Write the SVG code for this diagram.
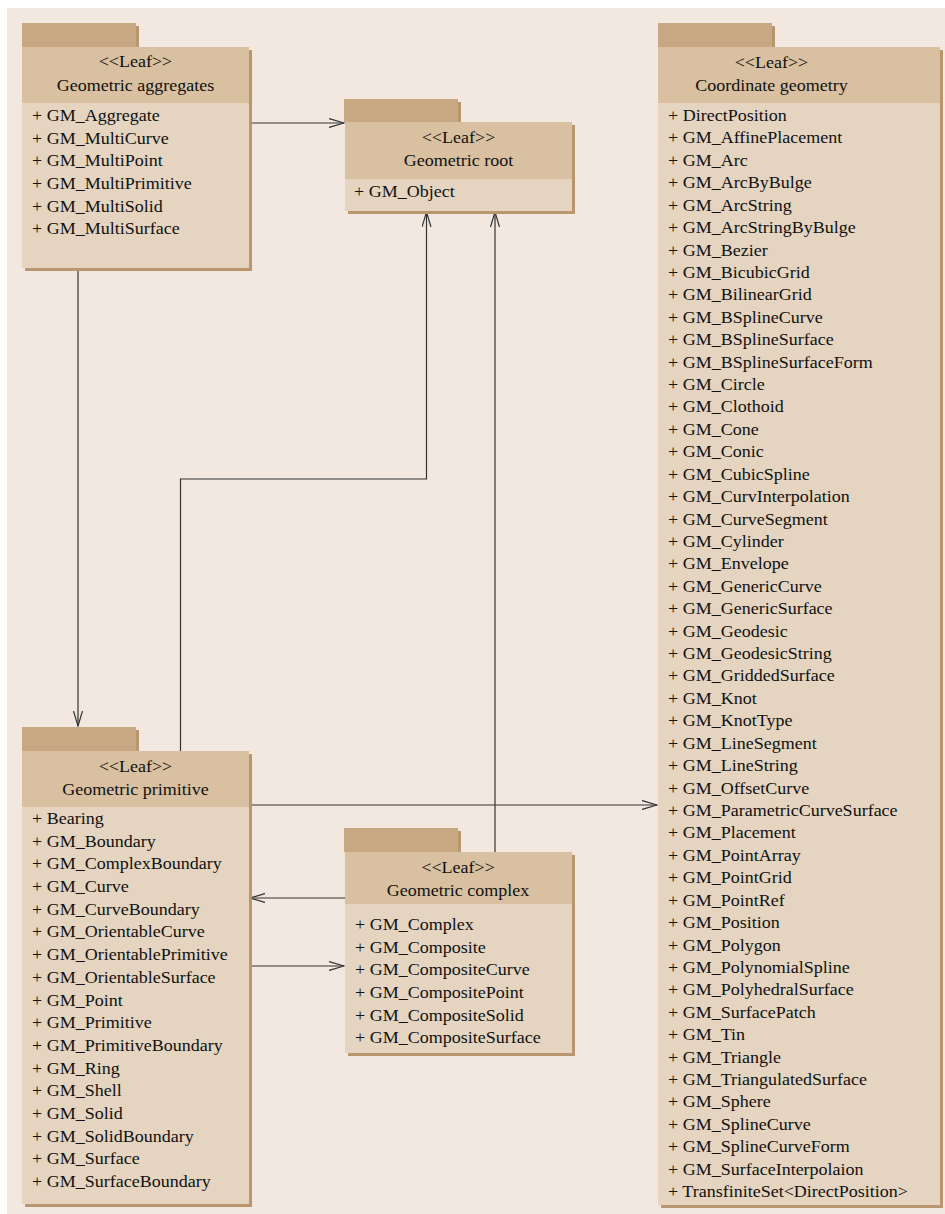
<svg xmlns="http://www.w3.org/2000/svg" width="945" height="1214" viewBox="0 0 945 1214">
<style>
.shadow{fill:#b8966e}
.tab{fill:#c8a882}
.head{fill:#d8c0a0}
.body{fill:#e4d4c0}
text{font-family:"Liberation Serif","Times New Roman",serif;font-size:17px;fill:#111}
.c{text-anchor:middle}
.conn{fill:none;stroke:#333;stroke-width:1.2}
</style>
<defs>
<marker id="arr" viewBox="0 0 16 10" refX="15" refY="5" markerWidth="16" markerHeight="10" markerUnits="userSpaceOnUse" orient="auto">
<path d="M0,0.5 L15,5 L0,9.5" fill="none" stroke="#333" stroke-width="1.2"/>
</marker>
</defs>
<rect x="7" y="8" width="938" height="1206" fill="#f2e8df"/>

<g id="connectors">
<path class="conn" d="M249,123 H344" marker-end="url(#arr)"/>
<path class="conn" d="M78,268 V726" marker-end="url(#arr)"/>
<path class="conn" d="M180.5,751 V479 H426.5 V212" marker-end="url(#arr)"/>
<path class="conn" d="M495,852 V212" marker-end="url(#arr)"/>
<path class="conn" d="M249,805 H657" marker-end="url(#arr)"/>
<path class="conn" d="M345,898 H250" marker-end="url(#arr)"/>
<path class="conn" d="M249,966 H344" marker-end="url(#arr)"/>
</g>

<g id="geometric-aggregates">
<rect class="shadow" x="25" y="26" width="114" height="24"/>
<rect class="shadow" x="25" y="50" width="227" height="221"/>
<rect class="tab" x="22" y="23" width="114" height="24"/>
<rect class="head" x="22" y="47" width="227" height="56"/>
<rect class="body" x="22" y="103" width="227" height="165"/>
<g transform="translate(32,0) scale(1.06,1)">
<text class="c" x="97.6" y="67">&lt;&lt;Leaf&gt;&gt;</text>
<text class="c" x="97.6" y="91">Geometric aggregates</text>
<text x="0" y="121">+ GM_Aggregate</text>
<text x="0" y="143.7">+ GM_MultiCurve</text>
<text x="0" y="166.4">+ GM_MultiPoint</text>
<text x="0" y="189.1">+ GM_MultiPrimitive</text>
<text x="0" y="211.8">+ GM_MultiSolid</text>
<text x="0" y="234.5">+ GM_MultiSurface</text>
</g>
</g>

<g id="geometric-root">
<rect class="shadow" x="347" y="102" width="114" height="23"/>
<rect class="shadow" x="348" y="125" width="227" height="89"/>
<rect class="tab" x="344" y="99" width="114" height="23"/>
<rect class="head" x="345" y="122" width="227" height="57"/>
<rect class="body" x="345" y="179" width="227" height="32"/>
<g transform="translate(354,0) scale(1.06,1)">
<text class="c" x="98.6" y="143">&lt;&lt;Leaf&gt;&gt;</text>
<text class="c" x="98.6" y="166">Geometric root</text>
<text x="0" y="197">+ GM_Object</text>
</g>
</g>

<g id="geometric-complex">
<rect class="shadow" x="347" y="831" width="114" height="24"/>
<rect class="shadow" x="348" y="855" width="227" height="201"/>
<rect class="tab" x="344" y="828" width="114" height="24"/>
<rect class="head" x="345" y="852" width="227" height="52"/>
<rect class="body" x="345" y="904" width="227" height="149"/>
<g transform="translate(355,0) scale(1.06,1)">
<text class="c" x="97.2" y="873">&lt;&lt;Leaf&gt;&gt;</text>
<text class="c" x="97.2" y="896">Geometric complex</text>
<text x="0" y="930">+ GM_Complex</text>
<text x="0" y="952.7">+ GM_Composite</text>
<text x="0" y="975.4">+ GM_CompositeCurve</text>
<text x="0" y="998.1">+ GM_CompositePoint</text>
<text x="0" y="1020.8">+ GM_CompositeSolid</text>
<text x="0" y="1043.5">+ GM_CompositeSurface</text>
</g>
</g>

<g id="geometric-primitive">
<rect class="shadow" x="25" y="730" width="114" height="24"/>
<rect class="shadow" x="25" y="754" width="227" height="453"/>
<rect class="tab" x="22" y="727" width="114" height="24"/>
<rect class="head" x="22" y="751" width="227" height="56"/>
<rect class="body" x="22" y="807" width="227" height="397"/>
<g transform="translate(32,0) scale(1.06,1)">
<text class="c" x="97.6" y="772">&lt;&lt;Leaf&gt;&gt;</text>
<text class="c" x="97.6" y="795">Geometric primitive</text>
<text x="0" y="824">+ Bearing</text>
<text x="0" y="846.7">+ GM_Boundary</text>
<text x="0" y="869.4">+ GM_ComplexBoundary</text>
<text x="0" y="892.1">+ GM_Curve</text>
<text x="0" y="914.8">+ GM_CurveBoundary</text>
<text x="0" y="937.5">+ GM_OrientableCurve</text>
<text x="0" y="960.2">+ GM_OrientablePrimitive</text>
<text x="0" y="982.9">+ GM_OrientableSurface</text>
<text x="0" y="1005.6">+ GM_Point</text>
<text x="0" y="1028.3">+ GM_Primitive</text>
<text x="0" y="1051">+ GM_PrimitiveBoundary</text>
<text x="0" y="1073.7">+ GM_Ring</text>
<text x="0" y="1096.4">+ GM_Shell</text>
<text x="0" y="1119.1">+ GM_Solid</text>
<text x="0" y="1141.8">+ GM_SolidBoundary</text>
<text x="0" y="1164.5">+ GM_Surface</text>
<text x="0" y="1187.2">+ GM_SurfaceBoundary</text>
</g>
</g>

<g id="coordinate-geometry">
<rect class="shadow" x="661" y="26" width="114" height="24"/>
<rect class="shadow" x="661" y="50" width="282" height="1158"/>
<rect class="tab" x="658" y="23" width="114" height="24"/>
<rect class="head" x="658" y="47" width="282" height="56"/>
<rect class="body" x="658" y="103" width="282" height="1102"/>
<g transform="translate(668,0) scale(1.06,1)">
<text class="c" x="97.6" y="68">&lt;&lt;Leaf&gt;&gt;</text>
<text class="c" x="97.6" y="91">Coordinate geometry</text>
<text x="0" y="121">+ DirectPosition</text>
<text x="0" y="143.42">+ GM_AffinePlacement</text>
<text x="0" y="165.84">+ GM_Arc</text>
<text x="0" y="188.26">+ GM_ArcByBulge</text>
<text x="0" y="210.68">+ GM_ArcString</text>
<text x="0" y="233.1">+ GM_ArcStringByBulge</text>
<text x="0" y="255.52">+ GM_Bezier</text>
<text x="0" y="277.94">+ GM_BicubicGrid</text>
<text x="0" y="300.36">+ GM_BilinearGrid</text>
<text x="0" y="322.78">+ GM_BSplineCurve</text>
<text x="0" y="345.2">+ GM_BSplineSurface</text>
<text x="0" y="367.62">+ GM_BSplineSurfaceForm</text>
<text x="0" y="390.04">+ GM_Circle</text>
<text x="0" y="412.46">+ GM_Clothoid</text>
<text x="0" y="434.88">+ GM_Cone</text>
<text x="0" y="457.3">+ GM_Conic</text>
<text x="0" y="479.72">+ GM_CubicSpline</text>
<text x="0" y="502.14">+ GM_CurvInterpolation</text>
<text x="0" y="524.56">+ GM_CurveSegment</text>
<text x="0" y="546.98">+ GM_Cylinder</text>
<text x="0" y="569.4">+ GM_Envelope</text>
<text x="0" y="591.82">+ GM_GenericCurve</text>
<text x="0" y="614.24">+ GM_GenericSurface</text>
<text x="0" y="636.66">+ GM_Geodesic</text>
<text x="0" y="659.08">+ GM_GeodesicString</text>
<text x="0" y="681.5">+ GM_GriddedSurface</text>
<text x="0" y="703.92">+ GM_Knot</text>
<text x="0" y="726.34">+ GM_KnotType</text>
<text x="0" y="748.76">+ GM_LineSegment</text>
<text x="0" y="771.18">+ GM_LineString</text>
<text x="0" y="793.6">+ GM_OffsetCurve</text>
<text x="0" y="816.02">+ GM_ParametricCurveSurface</text>
<text x="0" y="838.44">+ GM_Placement</text>
<text x="0" y="860.86">+ GM_PointArray</text>
<text x="0" y="883.28">+ GM_PointGrid</text>
<text x="0" y="905.7">+ GM_PointRef</text>
<text x="0" y="928.12">+ GM_Position</text>
<text x="0" y="950.54">+ GM_Polygon</text>
<text x="0" y="972.96">+ GM_PolynomialSpline</text>
<text x="0" y="995.38">+ GM_PolyhedralSurface</text>
<text x="0" y="1017.8">+ GM_SurfacePatch</text>
<text x="0" y="1040.22">+ GM_Tin</text>
<text x="0" y="1062.64">+ GM_Triangle</text>
<text x="0" y="1085.06">+ GM_TriangulatedSurface</text>
<text x="0" y="1107.48">+ GM_Sphere</text>
<text x="0" y="1129.9">+ GM_SplineCurve</text>
<text x="0" y="1152.32">+ GM_SplineCurveForm</text>
<text x="0" y="1174.74">+ GM_SurfaceInterpolaion</text>
<text x="0" y="1197.16">+ TransfiniteSet&lt;DirectPosition&gt;</text>
</g>
</g>
</svg>
